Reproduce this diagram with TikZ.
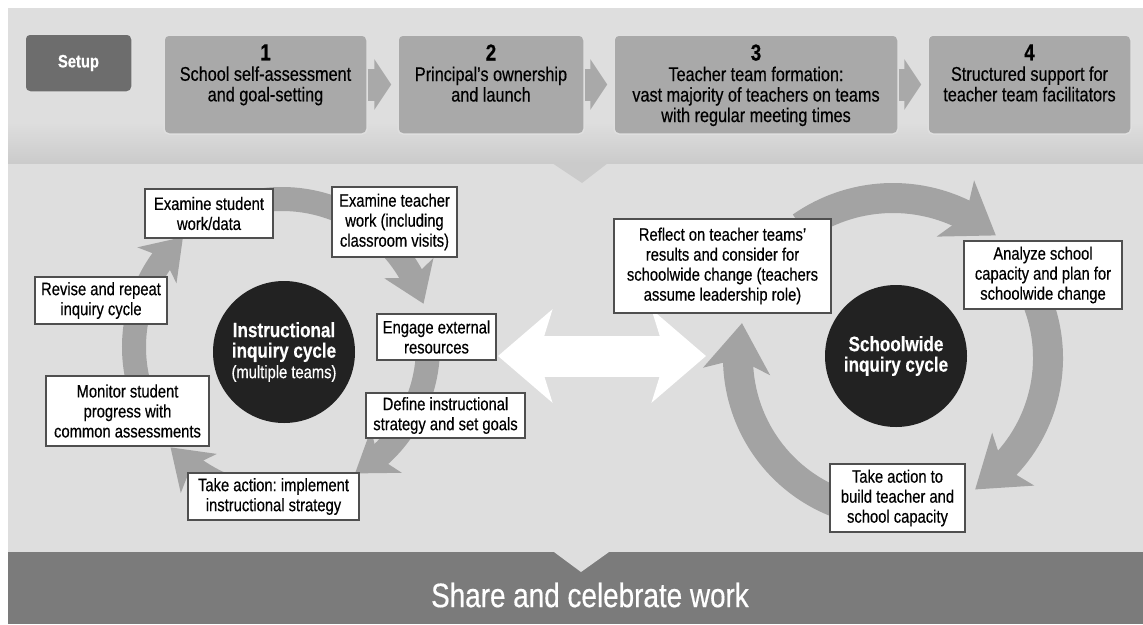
\documentclass[tikz,border=0pt]{standalone}
\usepackage{fontspec}
\setmainfont{Liberation Sans}[FakeStretch=0.82, FakeBold=0.4]
\usetikzlibrary{arrows.meta, bending}
\frenchspacing

\definecolor{panelgray}{HTML}{DEDEDE}
\definecolor{bandgray}{HTML}{CBCBCB}
\definecolor{stepgray}{HTML}{A9A9A9}
\definecolor{setupgray}{HTML}{6D6D6D}
\definecolor{ringgray}{HTML}{A3A3A3}
\definecolor{boxline}{HTML}{4F4F4F}
\definecolor{hubblack}{HTML}{222222}
\definecolor{footgray}{HTML}{7B7B7B}

\begin{document}
\begin{tikzpicture}[x=1pt, y=-1pt, font=\fontsize{18}{20}\selectfont]
\tikzstyle{stepbox} = [rectangle, rounded corners=5pt, draw=white!75!gray, line width=1.5pt, fill=stepgray, minimum height=99pt]
\tikzstyle{steptext} = [anchor=north, align=center, inner sep=0pt, font=\fontsize{19.8}{20.5}\selectfont]
\tikzstyle{stepflow} = [stepgray, line width=32pt, -{Triangle[length=17pt, width=50pt]}, shorten >=6pt]
\tikzstyle{task} = [rectangle, draw=boxline, line width=2.5pt, fill=white, align=center, inner sep=2pt]
\tikzstyle{hub} = [circle, fill=hubblack, minimum size=142pt, align=center, text=white, font=\fontsize{20.8}{20.5}\selectfont\bfseries]
\tikzstyle{ring} = [ringgray, line width=24pt, -{Stealth[length=38pt, width=52pt, inset=10pt]}]
\tikzstyle{ringwide} = [ringgray, line width=30pt, -{Stealth[length=48pt, width=66pt, inset=12pt]}]
\tikzstyle{link} = [white, line width=41pt, {Stealth[length=54pt, width=92pt, inset=14pt]}-{Stealth[length=54pt, width=92pt, inset=14pt]}]

% background bands
\useasboundingbox (0,0) rectangle (1143,624);
\fill [white] (0,0) rectangle (1143,624);
\fill [panelgray] (8,8) rectangle (1143,552);
\shade [top color=panelgray, bottom color=bandgray] (8,122) rectangle (1143,163);
\fill [bandgray] (552,163) -- (608,163) -- (582,183) -- cycle;
\fill [footgray] (8,552) rectangle (1143,624);
\fill [panelgray] (554,552) -- (609,552) -- (581,572) -- cycle;

% setup steps
\node (setup) [stepbox, fill=setupgray, minimum width=107pt, minimum height=58pt, text=white, font=\fontsize{18}{18}\selectfont\bfseries] at (78.5,63) {Setup};
\node (s1) [stepbox, minimum width=203pt] at (265.5,84.5) {};
\node (s2) [stepbox, minimum width=186pt] at (491,84.5) {};
\node (s3) [stepbox, minimum width=284pt] at (756,84.5) {};
\node (s4) [stepbox, minimum width=203pt] at (1029.5,84.5) {};

\draw [stepflow] (s1.east) -- (s2.west);
\draw [stepflow] (s2.east) -- (s3.west);
\draw [stepflow] (s3.east) -- (s4.west);

\node (s1t) [steptext] at ([yshift=-10pt]s1.north) {{\fontsize{23}{22}\selectfont\bfseries 1}\\School self-assessment\\and goal-setting};
\node (s2t) [steptext] at ([yshift=-10pt]s2.north) {{\fontsize{23}{22}\selectfont\bfseries 2}\\Principal's ownership\\and launch};
\node (s3t) [steptext] at ([yshift=-10pt]s3.north) {{\fontsize{23}{22}\selectfont\bfseries 3}\\Teacher team formation:\\vast majority of teachers on teams\\with regular meeting times};
\node (s4t) [steptext] at ([yshift=-10pt]s4.north) {{\fontsize{23}{22}\selectfont\bfseries 4}\\Structured support for\\teacher team facilitators};

% cycle arrows
\coordinate (lc) at (282,347);
\coordinate (rc) at (893,358);
\draw [ring] ([shift={(lc)}] 250:148) arc [start angle=250, end angle=343, radius=148];
\draw [ring] ([shift={(lc)}] 355:146) arc [start angle=355, end angle=420, radius=146];
\draw [ring] ([shift={(lc)}] 100:150) arc [start angle=100, end angle=138, radius=150];
\draw [ring] ([shift={(lc)}] 165:148) arc [start angle=165, end angle=228, radius=148];

\draw [ringwide] ([shift={(rc)}] 235:160) arc [start angle=235, end angle=310, radius=160];
\draw [ringwide] ([shift={(rc)}] 340:155) arc [start angle=340, end angle=418, radius=155];
\draw [ringwide] ([shift={(rc)}] 95:155) arc [start angle=95, end angle=193, radius=155];

\coordinate (link-l) at (498,356);
\coordinate (link-r) at (706,356);
\draw [link] (link-l) -- (link-r);

% hubs
\node (inquiry) [hub] at (284,352) {Instructional\\inquiry cycle\\{\fontsize{18}{20}\selectfont\mdseries (multiple teams)}};
\node (schoolwide) [hub] at (896,356) {Schoolwide\\inquiry cycle};

% instructional cycle
\node (exstudent) [task, minimum width=128pt, minimum height=49pt] at (209,213.5) {Examine student\\work/data};
\node (exteacher) [task, minimum width=125pt, minimum height=70pt] at (394.5,222) {Examine teacher\\work (including\\classroom visits)};
\node (engage) [task, minimum width=119pt, minimum height=46pt] at (436.5,337) {Engage external\\resources};
\node (define) [task, minimum width=159pt, minimum height=45pt] at (445.5,415.5) {Define instructional\\strategy and set goals};
\node (implement) [task, minimum width=171pt, minimum height=47pt] at (273.5,496.5) {Take action: implement\\instructional strategy};
\node (monitor) [task, minimum width=163pt, minimum height=70pt] at (127.5,411) {Monitor student\\progress with\\common assessments};
\node (revise) [task, minimum width=132pt, minimum height=47pt] at (101,300.5) {Revise and repeat\\inquiry cycle};

% schoolwide cycle
\node (reflect) [task, minimum width=217pt, minimum height=94pt] at (722.5,266) {Reflect on teacher teams'\\results and consider for\\schoolwide change (teachers\\assume leadership role)};
\node (analyze) [task, minimum width=158pt, minimum height=68pt] at (1043,275) {Analyze school\\capacity and plan for\\schoolwide change};
\node (buildcap) [task, minimum width=135pt, minimum height=68pt] at (897.5,498) {Take action to\\build teacher and\\school capacity};

\node (share) [text=white, font=\fontsize{34}{36}\selectfont] at (590,595) {Share and celebrate work};
\end{tikzpicture}
\end{document}
